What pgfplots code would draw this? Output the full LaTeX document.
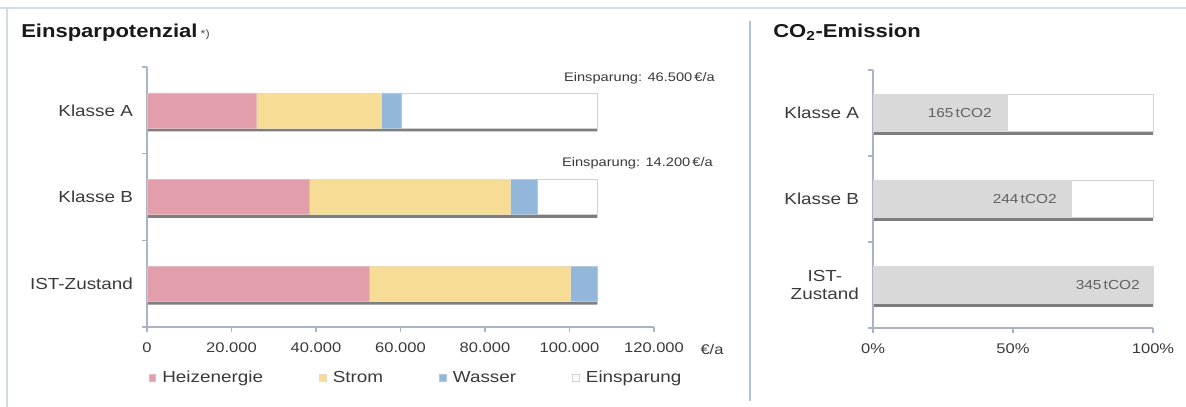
\documentclass[border=0pt]{standalone}
\usepackage{fontspec}
\setmainfont{Liberation Sans}[FakeStretch=1.18]
\usepackage{pgfplots}
\pgfplotsset{compat=1.18}
\usepackage{pgfplotstable}

\definecolor{heiz}{HTML}{E39EAB}
\definecolor{strom}{HTML}{F7DC96}
\definecolor{wasser}{HTML}{93B6DB}
\definecolor{emis}{HTML}{D9D9D9}
\definecolor{barline}{HTML}{D2D2D2}
\definecolor{shadow}{HTML}{7E7E7E}
\definecolor{axiscol}{HTML}{A9B5C6}
\definecolor{framecol}{HTML}{D5DBE4}
\definecolor{sepcol}{HTML}{B4C0D6}
\definecolor{txt}{HTML}{3A3A3A}

\pgfplotstableread{
y heiz strom wasser einsp total
0 52500 47700 6400 0 106600
1 38300 47700 6400 14200 106600
2 25800 29600 4700 46500 106600
}\kosten

\pgfplotstableread{
y emis rest total
0 100 0 100
1 70.72 29.28 100
2 47.83 52.17 100
}\emission

\pgfplotsset{
  base/.style={
    scale only axis, anchor=south west,
    ymin=-0.5, ymax=2.5,
    /pgf/number format/assume math mode=true,
  },
  frame/.style={
    base,
    axis x line*=bottom, axis y line*=left,
    axis line style={axiscol, line width=0.9pt},
    tick style={axiscol, line width=0.8pt},
    tick align=outside, major tick length=4pt,
    ytick={-0.5,0.5,1.5,2.5}, yticklabels=\empty,
    extra y ticks={0,1,2},
    extra y tick style={major tick length=0pt},
    yticklabel style={font=\fontsize{12}{14}\selectfont, text=txt, xshift=-7pt, align=center},
    xticklabel style={font=\fontsize{10.5}{12}\selectfont, text=txt, yshift=-4pt},
    clip=false,
  },
}

\begin{document}
\begin{tikzpicture}[x=0.75pt,y=0.75pt]
\path[use as bounding box] (0,0) rectangle (1186,407);
\draw[framecol, line width=1pt] (0,399) -- (1186,399);
\draw[framecol, line width=0.8pt] (7,399) -- (7,0);
\draw[sepcol, line width=1.6pt] (750,386) -- (750,6);

% titles
\node[anchor=base west, inner sep=0pt, text=black!90] at (21,369)
  {\fontsize{14}{16}\selectfont\bfseries Einsparpotenzial\,\fontsize{8}{10}\mdseries\color{black!70}*)};
\node[anchor=base west, inner sep=0pt, text=black!90] at (773,369)
  {\fontsize{14}{16}\selectfont\bfseries CO\textsubscript{2}-Emission};

% ---------- left: shadow ----------
\begin{axis}[base, at={(110.25pt,60pt)}, width=380.25pt, height=195pt,
  xmin=0, xmax=120000, hide axis, xbar, bar width=26.25pt, bar shift=-2.6pt]
\addplot[fill=shadow, draw=none] table[x=total, y=y] {\kosten};
\end{axis}

% ---------- left: main ----------
\begin{axis}[frame, at={(110.25pt,60pt)}, width=380.25pt, height=195pt,
  xmin=0, xmax=120000, xbar stacked, bar width=26.25pt,
  xtick={0,20000,40000,60000,80000,100000,120000},
  xticklabels={0,20.000,40.000,60.000,80.000,100.000,120.000},
  scaled x ticks=false,
  extra y tick labels={IST-Zustand,Klasse B,Klasse A},
  legend image code/.code={\draw[#1, line width=0.3pt] (0pt,-2.6pt) rectangle (5pt,2.6pt);},
  legend style={at={(axis description cs:0,0)}, anchor=west, xshift=-2pt, yshift=-38pt,
    draw=none, fill=none, font=\fontsize{12}{14}\selectfont, text=txt,
    legend columns=4,
    /tikz/every odd column/.append style={column sep=3pt},
    /tikz/every even column/.append style={column sep=40pt}},
  legend cell align=left,
]
\addplot[fill=heiz, draw=heiz!90!black!60] table[x=heiz, y=y] {\kosten};
\addplot[fill=strom, draw=strom!90!black!60] table[x=strom, y=y] {\kosten};
\addplot[fill=wasser, draw=wasser!90!black!60] table[x=wasser, y=y] {\kosten};
\addplot[fill=white, draw=barline] table[x=einsp, y=y] {\kosten};
\legend{Heizenergie, Strom, Wasser, Einsparung}
\end{axis}

\node[text=txt, font=\fontsize{10.5}{12}\selectfont] at (712,58) {€/a};
\node[anchor=base east, text=txt, font=\fontsize{9.3}{11}\selectfont, inner sep=0pt] at (715,325) {Einsparung: 46.500\,€/a};
\node[anchor=base east, text=txt, font=\fontsize{9.3}{11}\selectfont, inner sep=0pt] at (713,240) {Einsparung: 14.200\,€/a};

% ---------- right: shadow ----------
\begin{axis}[base, at={(654.75pt,59.25pt)}, width=210pt, height=193.5pt,
  xmin=0, xmax=100, hide axis, xbar, bar width=27.5pt, bar shift=-2.6pt]
\addplot[fill=shadow, draw=none] table[x=total, y=y] {\emission};
\end{axis}

% ---------- right: main ----------
\begin{axis}[frame, at={(654.75pt,59.25pt)}, width=210pt, height=193.5pt,
  xmin=0, xmax=100, xbar stacked, bar width=27.5pt,
  xtick={0,50,100}, xticklabels={0\%,50\%,100\%},
  extra y tick labels={{IST-\\Zustand},Klasse B,Klasse A},
]
\addplot[fill=emis, draw=emis] table[x=emis, y=y] {\emission};
\addplot[fill=white, draw=barline] table[x=rest, y=y] {\emission};
\end{axis}

\node[anchor=east, inner sep=0pt, text=black!62, font=\fontsize{9.8}{11}\selectfont] at (992,294) {165\,tCO2};
\node[anchor=east, inner sep=0pt, text=black!62, font=\fontsize{9.8}{11}\selectfont] at (1057,208) {244\,tCO2};
\node[anchor=east, inner sep=0pt, text=black!62, font=\fontsize{9.8}{11}\selectfont] at (1140,122) {345\,tCO2};
\end{tikzpicture}
\end{document}
